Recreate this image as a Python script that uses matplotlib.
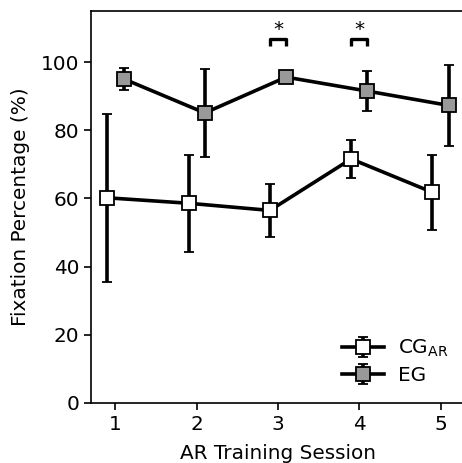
import matplotlib
matplotlib.use("Agg")
import matplotlib.pyplot as plt
import numpy as np

sessions = [1, 2, 3, 4, 5]
cg_mean = [60.2, 58.6, 56.5, 71.6, 61.8]
cg_err = [24.7, 14.2, 7.8, 5.7, 11.0]
eg_mean = [95.1, 85.1, 95.6, 91.5, 87.3]
eg_err = [3.3, 13.0, 1.0, 5.9, 12.0]
sig_sessions = [3, 4]
xtick_labels = ["1", "2", "3", "4", "5"]
yticks = [0, 20, 40, 60, 80, 100]

plt.rcParams['font.family'] = ['DejaVu Sans']
FS = 14.4
fig = plt.figure(figsize=(4.62, 4.63), dpi=100)
W, H = 462, 463
ax = fig.add_axes([91 / W, (H - 403) / H, (465 - 91) / W, (403 - 11) / H])

x = np.array(sessions, dtype=float)
dodge = 0.1
common = dict(color='black', lw=2.6, elinewidth=2.6, capsize=3.5, capthick=2.0,
              marker='s', markersize=9.5, markeredgecolor='black', markeredgewidth=1.3)
ax.errorbar(x - dodge, cg_mean, yerr=cg_err, markerfacecolor='white',
            label=r'CG$_{\mathrm{AR}}$', **common)
ax.errorbar(x + dodge, eg_mean, yerr=eg_err, markerfacecolor='#999999',
            label='EG', **common)

for s in sig_sessions:
    ax.plot([s - dodge, s - dodge, s + dodge, s + dodge], [104.8, 106.7, 106.7, 104.8],
            color='black', lw=2.4, solid_capstyle='butt')
    ax.text(s, 106.8, '*', ha='center', va='bottom', fontsize=FS)

ax.set_xlim(0.7, 5.3)
ax.set_ylim(0, 115)
ax.set_xticks(sessions)
ax.set_xticklabels(xtick_labels)
ax.set_yticks(yticks)
ax.tick_params(labelsize=FS, width=1.2, length=5)
for sp in ax.spines.values():
    sp.set_linewidth(1.2)
ax.spines['right'].set_visible(False)
ax.set_xlabel('AR Training Session', fontsize=FS, labelpad=7)
ax.set_ylabel('Fixation Percentage (%)', fontsize=FS, labelpad=8)

ax.legend(loc='lower right', frameon=False, fontsize=FS, handlelength=2.1,
          handletextpad=0.7, labelspacing=0.35, bbox_to_anchor=(1.004, 0.0))

fig.savefig('out.png', dpi=100)
